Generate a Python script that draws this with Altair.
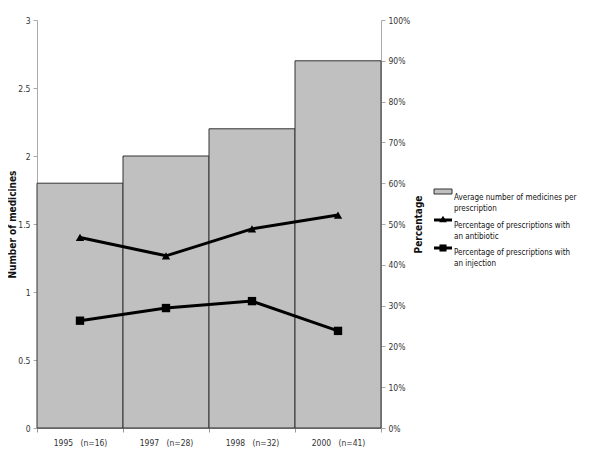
import altair as alt
import pandas as pd

NB = "\u00a0"
categories = [f"1995{NB}{NB}{NB}(n=16)", f"1997{NB}{NB}{NB}(n=28)", f"1998{NB}{NB}{NB}(n=32)", f"2000{NB}{NB}{NB}(n=41)"]
avg_medicines = [1.8, 2.0, 2.2, 2.7]
pct_antibiotic = [46.7, 42.2, 48.8, 52.2]
pct_injection = [26.3, 29.4, 31.1, 23.8]
left_ticks = [0, 0.5, 1, 1.5, 2, 2.5, 3]
right_ticks = [0, 10, 20, 30, 40, 50, 60, 70, 80, 90, 100]
legend_labels = [
    "Average number of medicines per\nprescription",
    "Percentage of prescriptions with\nan antibiotic",
    "Percentage of prescriptions with\nan injection",
]

FONT = "DejaVu Sans Condensed, Liberation Sans Narrow, Liberation Sans"

bars_df = pd.DataFrame({"year": categories, "avg": avg_medicines})
lines_df = pd.DataFrame({
    "year": categories * 2,
    "pct": pct_antibiotic + pct_injection,
    "series": ["antibiotic"] * 4 + ["injection"] * 4,
})

x_enc = alt.X(
    "year:N", sort=categories,
    scale=alt.Scale(paddingInner=0, paddingOuter=0),
    axis=alt.Axis(title=None, labelAngle=0, tickBand="extent", domainColor="#999",
                  tickColor="#999", tickSize=4, labelPadding=6, labelFont=FONT,
                  labelFontSize=8.5, labelColor="#333"),
)

bars = alt.Chart(bars_df).mark_bar(color="#c0c0c0", stroke="#333", strokeWidth=1).encode(
    x=x_enc,
    y=alt.Y("avg:Q", scale=alt.Scale(domain=[0, 3], nice=False),
            axis=alt.Axis(values=left_ticks, format="~g", title="Number of medicines", grid=False,
                          domainColor="#aaa", tickColor="#aaa", tickSize=4, labelPadding=3,
                          labelFont=FONT, labelFontSize=8.5, labelColor="#333",
                          titleFont=FONT, titleFontSize=10, titleFontWeight="bold",
                          titleColor="#111", titleX=-25, titleBaseline="middle")),
)

right_axis = alt.Axis(values=right_ticks, labelExpr="datum.value + '%'", title="Percentage", grid=False,
                      orient="right", domainColor="#aaa", tickColor="#aaa", tickSize=4, labelPadding=3,
                      labelFont=FONT, labelFontSize=8.5, labelColor="#333",
                      titleFont=FONT, titleFontSize=10, titleFontWeight="bold", titleColor="#111",
                      titleAngle=270, titleX=37, titleBaseline="middle")
y_pct = alt.Y("pct:Q", scale=alt.Scale(domain=[0, 100], nice=False), axis=right_axis)

lines = alt.Chart(lines_df).mark_line(color="black", strokeWidth=3).encode(
    x=alt.X("year:N", sort=categories), y=y_pct, detail="series:N")
points = alt.Chart(lines_df).mark_point(filled=True, color="black", opacity=1, size=70).encode(
    x=alt.X("year:N", sort=categories), y=y_pct,
    shape=alt.Shape("series:N", scale=alt.Scale(domain=["antibiotic", "injection"],
                                                 range=["triangle-up", "square"]), legend=None))
line_layer = alt.layer(lines, points)

# Legend
leg_df = pd.DataFrame({"label": legend_labels})
leg_rect = alt.Chart(leg_df.iloc[[0]]).mark_rect(color="#c0c0c0", stroke="#333", strokeWidth=1).encode(
    x=alt.value(397), x2=alt.value(415), y=alt.value(169), y2=alt.value(174))
leg_rule1 = alt.Chart(leg_df.iloc[[1]]).mark_rule(color="black", strokeWidth=3).encode(
    x=alt.value(397), x2=alt.value(415), y=alt.value(200))
leg_rule2 = alt.Chart(leg_df.iloc[[2]]).mark_rule(color="black", strokeWidth=3).encode(
    x=alt.value(397), x2=alt.value(415), y=alt.value(228))
leg_tri = alt.Chart(leg_df.iloc[[1]]).mark_point(shape="triangle-up", filled=True, color="black", opacity=1, size=60).encode(
    x=alt.value(406), y=alt.value(199))
leg_sq = alt.Chart(leg_df.iloc[[2]]).mark_point(shape="square", filled=True, color="black", opacity=1, size=50).encode(
    x=alt.value(406), y=alt.value(228))

def leg_text(i, y):
    return alt.Chart(leg_df.iloc[[i]]).mark_text(align="left", baseline="middle", lineBreak="\n",
                                                  font=FONT, fontSize=8, color="#111", lineHeight=11).encode(
        x=alt.value(417), y=alt.value(y), text="label:N")

legend = alt.layer(leg_rect, leg_rule1, leg_rule2, leg_tri, leg_sq,
                   leg_text(0, 178), leg_text(1, 205.5), leg_text(2, 233))

chart = alt.layer(bars, line_layer, legend).resolve_scale(y="independent").properties(
    width=344, height=408,
    autosize=alt.AutoSizeParams(type="none"),
    padding={"left": 29, "top": 12, "right": 211, "bottom": 27},
).configure_view(stroke=None)

chart.save("out.html", embed_options={"renderer": "svg", "actions": False})
